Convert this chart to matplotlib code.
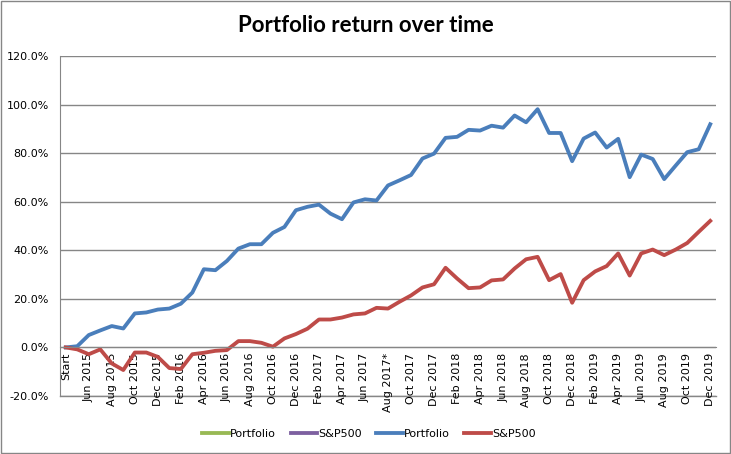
import matplotlib
matplotlib.use("Agg")
import matplotlib.pyplot as plt
from matplotlib.patches import Rectangle

# monthly cumulative returns (%), Start = Apr 2015 ... Dec 2019
portfolio = [0.0, 0.5, 5.1, 7.0, 8.8, 7.8, 14.0, 14.4, 15.6, 16.0,
             18.0, 22.6, 32.2, 31.8, 35.6, 40.7, 42.5, 42.5, 47.2, 49.6,
             56.5, 57.9, 58.8, 55.1, 52.8, 59.7, 61.0, 60.5, 66.7, 68.8,
             71.0, 77.8, 79.8, 86.3, 86.7, 89.6, 89.3, 91.3, 90.5, 95.5,
             92.7, 98.1, 88.3, 88.3, 76.7, 86.0, 88.5, 82.3, 85.9, 70.1,
             79.4, 77.6, 69.3, 74.9, 80.4, 81.6, 91.9]
sp500 = [0.0, -0.8, -2.8, -0.8, -6.6, -9.3, -2.1, -2.1, -3.9, -8.5,
         -8.9, -2.8, -2.2, -1.4, -1.1, 2.6, 2.6, 1.9, 0.3, 3.7,
         5.5, 7.7, 11.5, 11.5, 12.3, 13.6, 14.0, 16.3, 16.0, 18.8,
         21.4, 24.7, 26.0, 32.8, 28.4, 24.4, 24.7, 27.6, 28.0, 32.5,
         36.3, 37.3, 27.7, 30.2, 18.4, 27.7, 31.3, 33.5, 38.7, 29.6,
         38.7, 40.3, 38.0, 40.3, 43.0, 47.6, 52.1]
tick_labels = ["Start", "Jun 2015", "Aug 2015", "Oct 2015", "Dec 2015",
               "Feb 2016", "Apr 2016", "Jun 2016", "Aug 2016", "Oct 2016",
               "Dec 2016", "Feb 2017", "Apr 2017", "Jun 2017", "Aug 2017*",
               "Oct 2017", "Dec 2017", "Feb 2018", "Apr 2018", "Jun 2018",
               "Aug 2018", "Oct 2018", "Dec 2018", "Feb 2019", "Apr 2019",
               "Jun 2019", "Aug 2019", "Oct 2019", "Dec 2019"]
yticks = [-20, 0, 20, 40, 60, 80, 100, 120]

x = list(range(len(portfolio)))
grid_col = '#868686'

fig = plt.figure(figsize=(7.31, 4.54), dpi=100)
ax = fig.add_axes([60/731, 58/454, 656/731, 340/454])

# category axis crosses at 0, like the Excel original
ax.spines['bottom'].set_position(('data', 0))
ax.spines['bottom'].set_color(grid_col)
ax.spines['left'].set_color(grid_col)
ax.spines['top'].set_visible(False)
ax.spines['right'].set_visible(False)

ax.set_ylim(-20, 120)
ax.set_xlim(-0.5, len(x) - 0.5)
ax.set_yticks(yticks)
ax.set_yticklabels(["%.1f%%" % v for v in yticks], fontsize=8)
ax.yaxis.grid(True, color=grid_col, lw=1)
ax.axhline(-20, color=grid_col, lw=1, clip_on=False, zorder=0)
ax.set_axisbelow(True)

# hidden series kept only for the legend
ax.plot([], [], color='#98B954', lw=2.75, label='Portfolio')
ax.plot([], [], color='#7D60A0', lw=2.75, label='S&P500')
ax.plot(x, portfolio, color='#4A7EBB', lw=2.75, label='Portfolio',
        solid_joinstyle='round')
ax.plot(x, sp500, color='#BE4B48', lw=2.75, label='S&P500',
        solid_joinstyle='round')

ax.set_xticks(x[::2])
ax.set_xticklabels(tick_labels, rotation=90, fontsize=8, va='top', ha='center')
ax.tick_params(axis='x', length=0, pad=4)
ax.tick_params(axis='y', length=0, pad=8)

fig.suptitle('Portfolio return over time', x=0.5, y=1 - 26/454, va='center',
             fontsize=16, fontweight='bold', family='Lato')

fig.legend(loc='center', bbox_to_anchor=(0.505, 1 - 434/454), ncol=4,
           frameon=False, fontsize=8, handlelength=2.4, handletextpad=0.1,
           columnspacing=1.3)

fig.patches.append(Rectangle((0.001, 0.002), 0.997, 0.996, transform=fig.transFigure,
                             fill=False, edgecolor=grid_col, lw=1))

fig.savefig('out.png', dpi=100)
